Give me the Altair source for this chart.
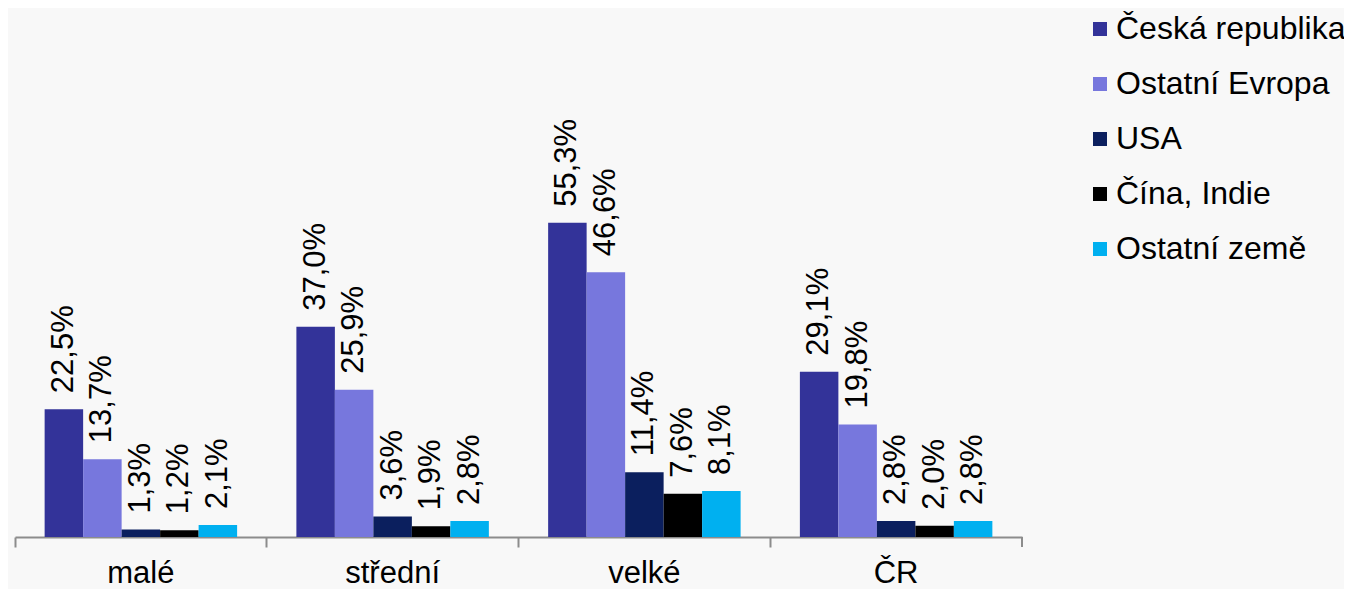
import altair as alt
import pandas as pd

groups = ["malé", "střední", "velké", "ČR"]
series = ["Česká republika", "Ostatní Evropa", "USA", "Čína, Indie", "Ostatní země"]
colors = ["#333399", "#7777dd", "#0b1f5e", "#000000", "#00b0f0"]
values = {
    "Česká republika": [22.5, 37.0, 55.3, 29.1],
    "Ostatní Evropa": [13.7, 25.9, 46.6, 19.8],
    "USA": [1.3, 3.6, 11.4, 2.8],
    "Čína, Indie": [1.2, 1.9, 7.6, 2.0],
    "Ostatní země": [2.1, 2.8, 8.1, 2.8],
}

rows = []
for s in series:
    for g, v in zip(groups, values[s]):
        rows.append({"group": g, "series": s, "value": v,
                     "label": f"{v:.1f}".replace(".", ",") + "%"})
df = pd.DataFrame(rows)

W, H = 1007, 529
FONT = "Liberation Sans"

x = alt.X("group:N", sort=groups, scale=alt.Scale(paddingInner=0, paddingOuter=0),
          axis=alt.Axis(title=None, labelAngle=0, bandPosition=0, labelFontSize=31,
                        labelFont=FONT, labelColor="#000000", domainColor="#8c8c8c",
                        domainWidth=2, tickColor="#8c8c8c", tickWidth=2, tickSize=10,
                        labelPadding=11, labelBaseline="top", labelBound=False,
                        labelFlush=False))
xo = alt.XOffset("series:N", sort=series, scale=alt.Scale(paddingOuter=0.77, paddingInner=0))
y = alt.Y("value:Q", scale=alt.Scale(domain=[0, 93.1], nice=False, zero=True), axis=None)

bars = alt.Chart(df).mark_bar().encode(
    x=x, xOffset=xo, y=y,
    color=alt.Color("series:N", sort=series,
                    scale=alt.Scale(domain=series, range=colors),
                    legend=alt.Legend(title=None, orient="none", legendX=1069, legendY=5,
                                      symbolType="square", symbolSize=196,
                                      symbolStrokeWidth=0, labelFontSize=32,
                                      labelFont=FONT, labelColor="#000000",
                                      rowPadding=23, labelOffset=0, padding=0,
                                      labelLimit=400)),
)

texts = alt.Chart(df).mark_text(angle=270, align="left", baseline="middle", dx=16,
                                fontSize=31, font=FONT, color="#000000").encode(
    x=alt.X("group:N", sort=groups), xOffset=alt.XOffset("series:N", sort=series), y="value:Q",
    text="label:N",
)

end_tick = alt.Chart(df).mark_rule(color="#8c8c8c", strokeWidth=2).encode(
    x=alt.value(W), y=alt.value(H), y2=alt.value(H + 10)
)

chart = alt.layer(bars, texts, end_tick).properties(
    width=W, height=H,
    padding={"left": 7, "top": 0, "right": 322, "bottom": 52},
    autosize=alt.AutoSizeParams(type="none"),
    background="#f8f8f8",
).configure_view(stroke=None)

chart.save("out.html", embed_options={"renderer": "svg", "actions": False})
